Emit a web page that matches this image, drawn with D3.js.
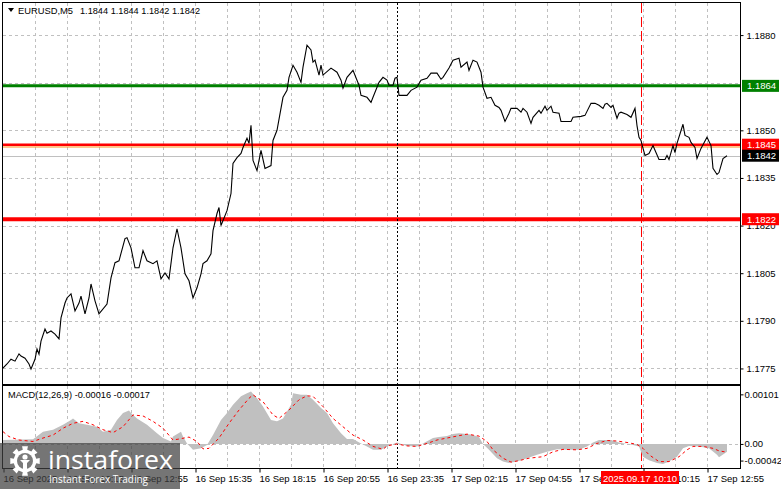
<!DOCTYPE html>
<html><head><meta charset="utf-8">
<script src="https://cdn.jsdelivr.net/npm/d3@7"></script>
<style>
html,body{margin:0;padding:0;background:#fff;}
svg{display:block;font-family:"Liberation Sans",Arial,sans-serif;}
</style></head>
<body><svg id="c" width="781" height="489"></svg>
<script>
// ---------- DATA ----------
const symbolName = "EURUSD,M5";
const symbolQuote = "1.1844 1.1844 1.1842 1.1842";
const macdTitle = "MACD(12,26,9) -0.00016 -0.00017";

const priceBar = [0,2,4,6,8,9,11,13,14,16,17,18,19,21,22,24,26,28,29,31,32,34,36,38,39,41,43,44,46,48,52,54,56,58,61,62,64,66,68,70,72,75,77,79,81,83,85,87,89,91,93,95,97,99,100,102,104,105,107,108,109,112,114,115,117,119,120,122,123,124,125,127,129,131,134,135,137,140,142,143,145,147,149,150,152,154,155,156,158,159,160,164,167,169,170,172,175,178,179,182,184,185,188,190,192,193,195,196,197,198,202,204,207,209,212,214,217,219,220,223,225,228,229,232,233,235,237,239,240,242,244,246,248,249,251,253,254,257,259,260,262,264,265,268,269,271,272,274,275,278,279,284,285,289,291,294,296,298,300,301,302,304,305,307,308,309,312,314,316,317,318,319,320,321,323,325,326,328,331,332,333,335,336,337,340,341,343,344,346,347,349,352,354,355,357,358,360,362];
const priceClose = [1.17751,1.17764,1.17779,1.17773,1.17796,1.17789,1.17782,1.17764,1.17748,1.17779,1.17811,1.17795,1.17836,1.17874,1.17861,1.17868,1.17858,1.17843,1.17909,1.17956,1.17972,1.17985,1.17931,1.17956,1.17978,1.17922,1.17972,1.18016,1.17963,1.17922,1.17953,1.18035,1.18083,1.18089,1.18159,1.18162,1.18130,1.18067,1.18067,1.18121,1.18089,1.18080,1.18089,1.18032,1.18051,1.18032,1.18130,1.18190,1.18130,1.18048,1.18026,1.17972,1.18004,1.18048,1.18080,1.18089,1.18111,1.18184,1.18238,1.18257,1.18200,1.18247,1.18301,1.18396,1.18414,1.18427,1.18446,1.18475,1.18459,1.18516,1.18405,1.18373,1.18437,1.18380,1.18389,1.18468,1.18500,1.18604,1.18626,1.18667,1.18705,1.18683,1.18651,1.18699,1.18768,1.18753,1.18715,1.18721,1.18674,1.18705,1.18674,1.18696,1.18683,1.18658,1.18633,1.18667,1.18689,1.18642,1.18610,1.18604,1.18588,1.18604,1.18651,1.18667,1.18658,1.18642,1.18642,1.18664,1.18667,1.18610,1.18610,1.18626,1.18636,1.18658,1.18664,1.18680,1.18680,1.18661,1.18667,1.18696,1.18721,1.18727,1.18699,1.18715,1.18689,1.18721,1.18715,1.18683,1.18636,1.18601,1.18604,1.18579,1.18572,1.18563,1.18528,1.18554,1.18569,1.18569,1.18557,1.18569,1.18557,1.18522,1.18541,1.18563,1.18554,1.18576,1.18563,1.18576,1.18557,1.18554,1.18528,1.18528,1.18541,1.18544,1.18547,1.18585,1.18585,1.18579,1.18569,1.18582,1.18585,1.18572,1.18579,1.18538,1.18554,1.18557,1.18550,1.18541,1.18569,1.18515,1.18478,1.18468,1.18443,1.18421,1.18427,1.18452,1.18437,1.18408,1.18408,1.18421,1.18408,1.18452,1.18430,1.18459,1.18519,1.18484,1.18478,1.18462,1.18446,1.18411,1.18443,1.18478,1.18452,1.18380,1.18361,1.18367,1.18411,1.18420];

const histBar = [0,15,20,25,30,34,35,38,42,47,50,54,57,60,63,64,67,72,77,80,84,85,89,90,92,95,99,102,105,109,112,115,119,122,124,127,130,134,137,140,144,145,149,152,155,159,162,165,169,172,175,179,182,185,189,192,195,197,202,207,210,215,218,222,225,228,232,235,238,240,243,247,250,253,257,262,267,272,277,282,288,292,295,298,302,305,308,312,315,318,320,323,327,330,333,337,340,343,348,353,357,358,362];
const histVal = [0.00008,0.000095,0.00025,0.00029,0.00039,0.00049,0.00052,0.00042,0.00039,0.00035,0.00025,0.00029,0.00049,0.00063,0.00068,0.00063,0.00052,0.00039,0.00022,0.00012,0.00005,0.00015,0.00025,0.00015,0.00001,-0.00012,-0.00009,-0.00002,0.00018,0.00049,0.00063,0.0008,0.00097,0.00103,0.00107,0.00093,0.00076,0.00049,0.00046,0.00052,0.0008,0.00103,0.001,0.001,0.0009,0.00073,0.00063,0.00042,0.00022,0.0001,0.0001,0.00001,-0.00005,-0.00012,-0.00012,-0.00005,0,0.00003,-0.00004,-0.00005,0.00001,0.00012,0.00014,0.00016,0.0002,0.00022,0.0002,0.00018,0.00014,0,-0.00012,-0.00029,-0.00036,-0.00039,-0.00036,-0.00029,-0.00022,-0.00016,-0.00011,-0.00012,-0.00012,-0.00005,0.00003,0.00008,0.00008,0.00007,0.00003,0,-0.00002,-0.00005,-0.00026,-0.00033,-0.00039,-0.00041,-0.00036,-0.00026,-0.00009,-0.00004,-0.00005,-0.00009,-0.00022,-0.00027,-0.00016];

const sigBar = [0,3,8,15,20,25,30,35,40,45,50,55,60,65,70,75,80,85,88,93,97,100,103,108,113,118,123,125,130,135,138,143,148,152,155,160,165,170,175,180,185,190,192,197,202,207,212,217,222,227,232,238,242,245,250,254,258,263,270,275,280,287,292,297,302,307,312,317,320,323,328,333,338,342,345,350,355,358,362];
const sigVal = [0.00025,0.00015,0.00008,0.00005,0.00012,0.00018,0.00032,0.00042,0.00046,0.00039,0.00029,0.00023,0.00035,0.00059,0.00057,0.00046,0.00032,0.00008,0.0001,0.00014,0.00005,-0.0001,-0.00009,0.00012,0.00042,0.00069,0.00093,0.001,0.00086,0.00059,0.00052,0.00069,0.0009,0.00098,0.00097,0.00076,0.00052,0.00035,0.00018,0.00008,-0.00005,-0.00011,-0.00004,0,-0.00004,-0.00005,0.00001,0.00008,0.00012,0.00016,0.0002,0.00016,0.00005,-0.00012,-0.00029,-0.00037,-0.00034,-0.00029,-0.00026,-0.00016,-0.00011,-0.00012,-0.00009,0.00001,0.00007,0.00006,0.00003,-0.00001,-0.00009,-0.00022,-0.00036,-0.00036,-0.00026,-0.00012,-0.00005,-0.00005,-0.00009,-0.00014,-0.00017];

const gridPrices = [1.1775,1.1790,1.1805,1.1820,1.1835,1.1850,1.1865,1.1880];
const priceTicks = [1.1775,1.1790,1.1805,1.1820,1.1835,1.1850,1.1880];
const priceTickLabels = ["1.1775","1.1790","1.1805","1.1820","1.1835","1.1850","1.1880"];
const macdTicks = [0.00101, 0, -0.00042];
const macdTickLabels = ["0.00101","0.00","-0.00042"];
const timeTickBars = [0,32,64,96,128,160,192,224,256,288,320,352];
const timeTickLabels = ["16 Sep 2025","16 Sep 10:15","16 Sep 12:55","16 Sep 15:35","16 Sep 18:15","16 Sep 20:55","16 Sep 23:35","17 Sep 02:15","17 Sep 04:55","17 Sep 07:35","17 Sep 10:15","17 Sep 12:55"];
const gridEveryBars = 16;
const levelGreen = 1.1864, levelRed1 = 1.1845, levelRed2 = 1.1822, bidPrice = 1.1842;
const levelLabels = ["1.1864","1.1845","1.1842","1.1822"];
const daySepBar = 197;
const markerBar = 319;
const markerLabel = "2025.09.17 10:10";
const totalBars = 368.5;
const logoText = "instaforex", logoSub = "Instant Forex Trading";

// ---------- LAYOUT ----------
const L = 3, R = 740, mainTop = 3, mainBot = 384, macdTop = 386, macdBot = 468;
const svg = d3.select("#c");
const x = d3.scaleLinear().domain([0, totalBars]).range([L, R]);
const y = d3.scaleLinear().domain([1.17701, 1.18901]).range([mainBot, mainTop]);
const ym = d3.scaleLinear().domain([-0.00049, 0.00118]).range([macdBot, macdTop]);
const FS = "9.5px";

const defs = svg.append("defs");
defs.append("clipPath").attr("id","cm").append("rect")
  .attr("x",L).attr("y",mainTop).attr("width",R-L).attr("height",mainBot-mainTop);
defs.append("clipPath").attr("id","cd").append("rect")
  .attr("x",L).attr("y",macdTop).attr("width",R-L).attr("height",macdBot-macdTop);

// grid
const gridX = d3.range(gridEveryBars, totalBars, gridEveryBars).filter(b => x(b) < R-1);
const gGrid = svg.append("g").attr("stroke","#c0c0c0").attr("stroke-dasharray","3,3").attr("shape-rendering","crispEdges");
gridX.forEach(b => {
  const xx = Math.round(x(b))+0.5;
  gGrid.append("line").attr("x1",xx).attr("x2",xx).attr("y1",mainTop).attr("y2",mainBot);
  gGrid.append("line").attr("x1",xx).attr("x2",xx).attr("y1",macdTop).attr("y2",macdBot);
});
gridPrices.forEach(p => {
  const yy = Math.round(y(p))+0.5;
  gGrid.append("line").attr("x1",L).attr("x2",R).attr("y1",yy).attr("y2",yy);
});
gGrid.append("line").attr("x1",L).attr("x2",R).attr("y1",Math.round(ym(0))+0.5).attr("y2",Math.round(ym(0))+0.5);

// header
svg.append("path").attr("d","M8,8 L14,8 L11,12 Z").attr("fill","#000");
svg.append("text").attr("x",18).attr("y",14).attr("font-size",FS)
  .attr("textLength",55).attr("lengthAdjust","spacingAndGlyphs").text(symbolName);
svg.append("text").attr("x",80).attr("y",14).attr("font-size",FS)
  .attr("textLength",120).attr("lengthAdjust","spacingAndGlyphs").text(symbolQuote);

// bid line
svg.append("line").attr("x1",L).attr("x2",R).attr("y1",Math.round(y(bidPrice))+0.5).attr("y2",Math.round(y(bidPrice))+0.5)
  .attr("stroke","#c0c0c0").attr("stroke-width",1);

// levels
svg.append("line").attr("x1",L).attr("x2",R).attr("y1",y(levelGreen)).attr("y2",y(levelGreen)).attr("stroke","#008000").attr("stroke-width",3);
svg.append("line").attr("x1",L).attr("x2",R).attr("y1",y(levelRed1)-1.5).attr("y2",y(levelRed1)-1.5).attr("stroke","#ff0000").attr("stroke-width",2.5);
svg.append("line").attr("x1",L).attr("x2",R).attr("y1",y(levelRed1)+0.8).attr("y2",y(levelRed1)+0.8).attr("stroke","#ff8c1a").attr("stroke-width",1);
svg.append("line").attr("x1",L).attr("x2",R).attr("y1",y(levelRed2)).attr("y2",y(levelRed2)).attr("stroke","#ff0000").attr("stroke-width",4);

// separators
svg.append("line").attr("x1",Math.round(x(daySepBar))+0.5).attr("x2",Math.round(x(daySepBar))+0.5).attr("y1",mainTop).attr("y2",macdBot)
  .attr("stroke","#000").attr("stroke-dasharray","2,2").attr("shape-rendering","crispEdges");
svg.append("line").attr("x1",Math.round(x(markerBar))+0.5).attr("x2",Math.round(x(markerBar))+0.5).attr("y1",mainTop).attr("y2",macdBot)
  .attr("stroke","#ff0000").attr("stroke-dasharray","10,4").attr("shape-rendering","crispEdges");

// price line
const priceData = priceBar.map((b,i)=>({b, v:priceClose[i]}));
svg.append("path").datum(priceData).attr("clip-path","url(#cm)")
  .attr("d", d3.line().x(d=>x(d.b)).y(d=>y(d.v)))
  .attr("fill","none").attr("stroke","#000").attr("stroke-width",1.1);

// MACD
const histData = histBar.map((b,i)=>({b, v:histVal[i]}));
svg.append("path").datum(histData).attr("clip-path","url(#cd)")
  .attr("d", d3.area().x(d=>x(d.b)).y0(ym(0)).y1(d=>ym(d.v)))
  .attr("fill","#c0c0c0");
const sigData = sigBar.map((b,i)=>({b, v:sigVal[i]}));
svg.append("path").datum(sigData).attr("clip-path","url(#cd)")
  .attr("d", d3.line().x(d=>x(d.b)).y(d=>ym(d.v)))
  .attr("fill","none").attr("stroke","#ff0000").attr("stroke-width",1).attr("stroke-dasharray","3,3");
svg.append("text").attr("x",8).attr("y",398).attr("font-size",FS)
  .attr("textLength",142).attr("lengthAdjust","spacingAndGlyphs").text(macdTitle);

// panel borders
svg.append("rect").attr("x",L-0.5).attr("y",mainTop-0.5).attr("width",R-L+1).attr("height",mainBot-mainTop+1)
  .attr("fill","none").attr("stroke","#000").attr("shape-rendering","crispEdges");
svg.append("rect").attr("x",L-0.5).attr("y",macdTop-0.5).attr("width",R-L+1).attr("height",macdBot-macdTop+1)
  .attr("fill","none").attr("stroke","#000").attr("shape-rendering","crispEdges");

// price axis
const pAxis = d3.axisRight(y).tickValues(priceTicks).tickSize(3).tickPadding(3)
  .tickFormat((d,i)=>priceTickLabels[i]);
const gpa = svg.append("g").attr("transform",`translate(${R+0.5},0)`).call(pAxis);
gpa.select(".domain").remove();
gpa.selectAll("text").attr("font-size",FS).attr("font-family","Liberation Sans, Arial, sans-serif").attr("fill","#000");
gpa.selectAll("line").attr("stroke","#000");

// macd axis
const mAxis = d3.axisRight(ym).tickValues(macdTicks).tickSize(3).tickPadding(1)
  .tickFormat((d,i)=>macdTickLabels[i]);
const gma = svg.append("g").attr("transform",`translate(${R+0.5},0)`).call(mAxis);
gma.select(".domain").remove();
gma.selectAll(".tick").filter(d=>d<0).attr("transform",d=>`translate(0,${ym(d)-3.5})`);
gma.selectAll("text").attr("font-size",FS).attr("font-family","Liberation Sans, Arial, sans-serif").attr("fill","#000");
gma.selectAll("line").attr("stroke","#000");

// level labels on axis
const lvl = [[levelGreen,"#008000",levelLabels[0],0],[levelRed1,"#ff0000",levelLabels[1],-1.5],[bidPrice,"#000000",levelLabels[2],0],[levelRed2,"#ff0000",levelLabels[3],0]];
lvl.forEach(([p,c,t,dy])=>{
  const cy = y(p)+dy;
  svg.append("rect").attr("x",R+2).attr("y",cy-6).attr("width",37).attr("height",12).attr("fill",c);
  svg.append("text").attr("x",R+7).attr("y",cy+3.5).attr("font-size",FS).attr("fill","#fff").text(t);
});

// time axis
const tAxis = d3.axisBottom(x).tickValues(timeTickBars).tickSize(4).tickPadding(3)
  .tickFormat((d,i)=>timeTickLabels[i]);
const gta = svg.append("g").attr("transform",`translate(0.5,${macdBot+0.5})`).call(tAxis);
gta.select(".domain").remove();
gta.selectAll("text").attr("font-size",FS).attr("font-family","Liberation Sans, Arial, sans-serif")
  .attr("text-anchor","start").attr("dx","-0.5").attr("fill","#000");
gta.selectAll("line").attr("stroke","#000");

// marker label
const mx = x(markerBar);
svg.append("rect").attr("x",mx-40).attr("y",471).attr("width",78).attr("height",13).attr("fill","#ff0000");
svg.append("text").attr("x",mx-1).attr("y",481.5).attr("font-size",FS).attr("fill","#fff").attr("text-anchor","middle").text(markerLabel);

// watermark logo
const lg = svg.append("g");
lg.append("rect").attr("x",0).attr("y",443).attr("width",180).attr("height",46).attr("fill","#404040").attr("opacity",0.72);
const gx = 25, gy = 461;
const teeth = 8, rO = 15, rI = 11.5;
let gp = "";
for (let k=0;k<teeth*2;k++){
  const a0 = (k/(teeth*2))*2*Math.PI - Math.PI/2 - Math.PI/(teeth*2);
  const a1 = a0 + Math.PI/teeth;
  const r = k%2===0 ? rO : rI;
  gp += (k===0?"M":"L")+(gx+r*Math.cos(a0)).toFixed(2)+","+(gy+r*Math.sin(a0)).toFixed(2)+
        "L"+(gx+r*Math.cos(a1)).toFixed(2)+","+(gy+r*Math.sin(a1)).toFixed(2);
}
gp += "Z";
lg.append("path").attr("d",gp).attr("fill","#fff");
lg.append("circle").attr("cx",gx).attr("cy",gy).attr("r",8).attr("fill","#7a7a7a");
lg.append("circle").attr("cx",gx).attr("cy",gy-4).attr("r",2.6).attr("fill","#fff");
lg.append("path").attr("d",`M${gx-5},${gy-1} L${gx+5},${gy-1} L${gx+2},${gy+2} L${gx+2},${gy+8} L${gx-2},${gy+8} L${gx-2},${gy+2} Z`).attr("fill","#fff");
lg.append("text").attr("x",48).attr("y",468.5).attr("font-family","Open Sans, sans-serif").attr("font-size","25px").attr("fill","#fff")
  .attr("textLength",125).attr("lengthAdjust","spacingAndGlyphs").text(logoText);
lg.append("text").attr("x",49).attr("y",483).attr("font-family","Open Sans, sans-serif").attr("font-size","10px").attr("fill","#fff")
  .attr("textLength",99).attr("lengthAdjust","spacingAndGlyphs").text(logoSub);
</script></body></html>
